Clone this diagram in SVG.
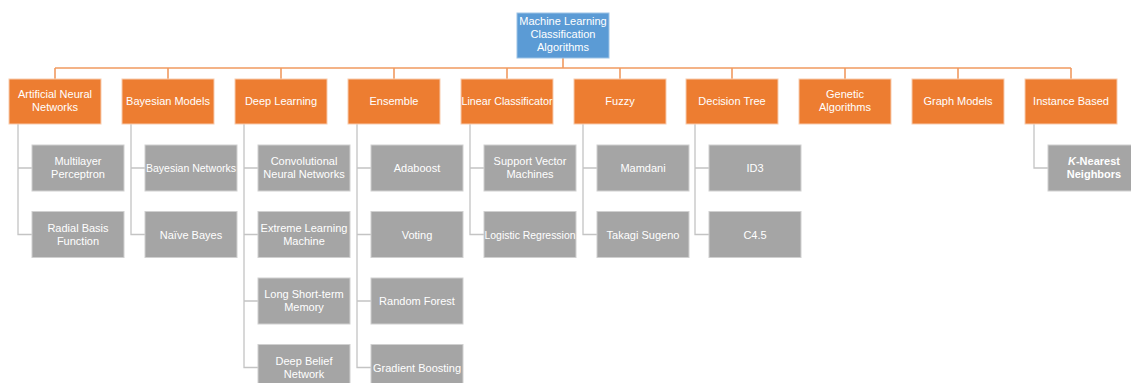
<svg xmlns="http://www.w3.org/2000/svg" width="1131" height="383" viewBox="0 0 1131 383">
<style>
text{font-family:"Liberation Sans",Arial,sans-serif;font-size:11px;fill:#fff;text-anchor:middle}
.root{fill:#5B9BD5;stroke:#9DC3E6;stroke-width:1}
.cat{fill:#ED7D31;stroke:#F8CBAD;stroke-width:1}
.leaf{fill:#A5A5A5;stroke:#D0D0D0;stroke-width:1}
.oc{stroke:#F19A60;stroke-width:1.6;fill:none}
.gc{stroke:#C4C4C4;stroke-width:1.3;fill:none}
</style>
<rect width="1131" height="383" fill="#fff"/>
<g id="connectors">
<path class="oc" d="M563 58V68M55 68H1071M55 68V79M168 68V79M281 68V79M394 68V79M507 68V79M620 68V79M732 68V79M845 68V79M958 68V79M1071 68V79"/>
<path class="gc" d="M18 124V234.5H32M18 168H32"/>
<path class="gc" d="M131 124V234.5H145M131 168H145"/>
<path class="gc" d="M244 124V367.5H258M244 168H258M244 234.5H258M244 301H258"/>
<path class="gc" d="M357 124V367.5H371M357 168H371M357 234.5H371M357 301H371"/>
<path class="gc" d="M470 124V234.5H484M470 168H484"/>
<path class="gc" d="M583 124V234.5H597M583 168H597"/>
<path class="gc" d="M695 124V234.5H709M695 168H709"/>
<path class="gc" d="M1034 124V168H1048"/>
</g>
<g id="root"><rect class="root" x="517" y="13" width="92" height="45"/><text x="563" y="25">Machine Learning</text><text x="563" y="38">Classification</text><text x="563" y="51">Algorithms</text></g>
<g id="ann"><rect class="cat" x="9" y="79" width="92" height="45"/><text x="55" y="98">Artificial Neural</text><text x="55" y="111">Networks</text></g>
<g id="bayesian"><rect class="cat" x="122" y="79" width="92" height="45"/><text x="168" y="105">Bayesian Models</text></g>
<g id="deep"><rect class="cat" x="235" y="79" width="92" height="45"/><text x="281" y="105">Deep Learning</text></g>
<g id="ensemble"><rect class="cat" x="348" y="79" width="92" height="45"/><text x="394" y="105">Ensemble</text></g>
<g id="linear"><rect class="cat" x="461" y="79" width="92" height="45"/><text x="507" y="105" textLength="91" lengthAdjust="spacingAndGlyphs">Linear Classificator</text></g>
<g id="fuzzy"><rect class="cat" x="574" y="79" width="92" height="45"/><text x="620" y="105">Fuzzy</text></g>
<g id="dtree"><rect class="cat" x="686" y="79" width="92" height="45"/><text x="732" y="105">Decision Tree</text></g>
<g id="genetic"><rect class="cat" x="799" y="79" width="92" height="45"/><text x="845" y="98">Genetic</text><text x="845" y="111">Algorithms</text></g>
<g id="graph"><rect class="cat" x="912" y="79" width="92" height="45"/><text x="958" y="105">Graph Models</text></g>
<g id="instance"><rect class="cat" x="1025" y="79" width="92" height="45"/><text x="1071" y="105">Instance Based</text></g>
<g id="mlp"><rect class="leaf" x="32" y="145" width="92" height="46"/><text x="78" y="165">Multilayer</text><text x="78" y="178">Perceptron</text></g>
<g id="rbf"><rect class="leaf" x="32" y="211.5" width="92" height="46"/><text x="78" y="231.5">Radial Basis</text><text x="78" y="244.5">Function</text></g>
<g id="bn"><rect class="leaf" x="145" y="145" width="92" height="46"/><text x="191" y="172" textLength="90" lengthAdjust="spacingAndGlyphs">Bayesian Networks</text></g>
<g id="nb"><rect class="leaf" x="145" y="211.5" width="92" height="46"/><text x="191" y="238.5">Naïve Bayes</text></g>
<g id="cnn"><rect class="leaf" x="258" y="145" width="92" height="46"/><text x="304" y="165">Convolutional</text><text x="304" y="178">Neural Networks</text></g>
<g id="elm"><rect class="leaf" x="258" y="211.5" width="92" height="46"/><text x="304" y="231.5">Extreme Learning</text><text x="304" y="244.5">Machine</text></g>
<g id="lstm"><rect class="leaf" x="258" y="278" width="92" height="46"/><text x="304" y="298">Long Short-term</text><text x="304" y="311">Memory</text></g>
<g id="dbn"><rect class="leaf" x="258" y="344.5" width="92" height="46"/><text x="304" y="364.5">Deep Belief</text><text x="304" y="377.5">Network</text></g>
<g id="adaboost"><rect class="leaf" x="371" y="145" width="92" height="46"/><text x="417" y="172">Adaboost</text></g>
<g id="voting"><rect class="leaf" x="371" y="211.5" width="92" height="46"/><text x="417" y="238.5">Voting</text></g>
<g id="rf"><rect class="leaf" x="371" y="278" width="92" height="46"/><text x="417" y="305">Random Forest</text></g>
<g id="gb"><rect class="leaf" x="371" y="344.5" width="92" height="46"/><text x="417" y="371.5" textLength="88" lengthAdjust="spacingAndGlyphs">Gradient Boosting</text></g>
<g id="svm"><rect class="leaf" x="484" y="145" width="92" height="46"/><text x="530" y="165">Support Vector</text><text x="530" y="178">Machines</text></g>
<g id="lr"><rect class="leaf" x="484" y="211.5" width="92" height="46"/><text x="530" y="238.5" textLength="91" lengthAdjust="spacingAndGlyphs">Logistic Regression</text></g>
<g id="mamdani"><rect class="leaf" x="597" y="145" width="92" height="46"/><text x="643" y="172">Mamdani</text></g>
<g id="takagi"><rect class="leaf" x="597" y="211.5" width="92" height="46"/><text x="643" y="238.5">Takagi Sugeno</text></g>
<g id="id3"><rect class="leaf" x="709" y="145" width="92" height="46"/><text x="755" y="172">ID3</text></g>
<g id="c45"><rect class="leaf" x="709" y="211.5" width="92" height="46"/><text x="755" y="238.5">C4.5</text></g>
<g id="knn"><rect class="leaf" x="1048" y="145" width="92" height="46"/><text x="1094" y="165" font-weight="bold"><tspan font-style="italic">K</tspan>-Nearest</text><text x="1094" y="178" font-weight="bold">Neighbors</text></g>
</svg>
